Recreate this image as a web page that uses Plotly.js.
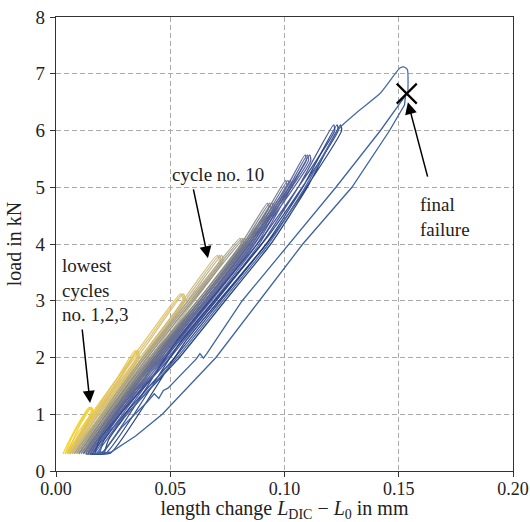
<!DOCTYPE html>
<html><head><meta charset="utf-8">
<script src="https://cdn.plot.ly/plotly-3.0.1.min.js"></script>
<style>html,body{margin:0;padding:0;background:#fff}#chart{width:530px;height:522px}</style>
</head><body><div id="chart"></div>
<script>
// load sequences (kN) shared by the cycles of one load level: loading, then unloading
const yL1 = [0.30, 0.55, 0.85, 1.12, 1.06, 0.70, 0.32];
const yL2 = [0.30, 0.70, 1.20, 1.65, 2.12, 2.02, 1.50, 0.90, 0.32];
const yL3 = [0.30, 0.80, 1.50, 2.30, 3.12, 3.02, 2.20, 1.30, 0.32];
const yL4 = [0.30, 0.90, 1.80, 2.80, 3.80, 3.70, 2.60, 1.50, 0.32];
const yL5 = [0.30, 1.00, 2.00, 3.10, 4.10, 4.00, 2.80, 1.60, 0.32];
const yL6 = [0.30, 1.00, 2.00, 3.00, 4.00, 4.72, 4.62, 3.20, 1.80, 0.32];
const yL7 = [0.30, 1.00, 2.00, 3.00, 4.00, 5.12, 5.02, 3.50, 2.00, 0.32];
const yL8 = [0.30, 1.00, 2.00, 3.00, 4.00, 5.00, 5.57, 5.47, 3.80, 2.10, 0.32];
const yL9 = [0.30, 0.55, 1.00, 2.00, 3.00, 4.00, 5.00, 6.10, 6.00, 4.20, 2.30, 0.32, 0.30];

// length change (mm) of each cycle
const x01 = [0.003, 0.006, 0.010, 0.0145, 0.0155, 0.011, 0.005];
const x02 = [0.004, 0.0065, 0.0105, 0.015, 0.016, 0.0115, 0.006];
const x03 = [0.005, 0.0075, 0.011, 0.0155, 0.0162, 0.012, 0.0068];
const x04 = [0.004, 0.010, 0.019, 0.027, 0.0345, 0.0355, 0.027, 0.015, 0.006];
const x05 = [0.005, 0.011, 0.020, 0.028, 0.0352, 0.036, 0.0278, 0.016, 0.007];
const x06 = [0.006, 0.012, 0.021, 0.0285, 0.0358, 0.0365, 0.0285, 0.017, 0.008];
const x07 = [0.005, 0.013, 0.0245, 0.039, 0.0545, 0.0555, 0.041, 0.026, 0.007];
const x08 = [0.006, 0.014, 0.0255, 0.040, 0.0552, 0.056, 0.042, 0.027, 0.008];
const x09 = [0.007, 0.015, 0.0265, 0.041, 0.0558, 0.0566, 0.043, 0.028, 0.009];
const x10 = [0.006, 0.017, 0.033, 0.052, 0.0705, 0.0715, 0.051, 0.031, 0.008];
const x11 = [0.007, 0.018, 0.034, 0.053, 0.0715, 0.0722, 0.052, 0.032, 0.009];
const x12 = [0.008, 0.019, 0.035, 0.054, 0.0725, 0.073, 0.053, 0.033, 0.010];
const x13 = [0.008, 0.020, 0.038, 0.060, 0.0805, 0.081, 0.058, 0.036, 0.010];
const x14 = [0.009, 0.021, 0.039, 0.061, 0.0815, 0.082, 0.059, 0.037, 0.011];
const x15 = [0.010, 0.022, 0.040, 0.062, 0.0825, 0.083, 0.060, 0.038, 0.012];
const x16 = [0.010, 0.022, 0.041, 0.062, 0.081, 0.0925, 0.093, 0.066, 0.038, 0.012];
const x17 = [0.011, 0.023, 0.042, 0.063, 0.082, 0.0935, 0.094, 0.067, 0.039, 0.013];
const x18 = [0.012, 0.024, 0.043, 0.064, 0.083, 0.0945, 0.095, 0.068, 0.040, 0.014];
const x19 = [0.012, 0.024, 0.044, 0.065, 0.084, 0.1005, 0.101, 0.073, 0.043, 0.014];
const x20 = [0.013, 0.025, 0.045, 0.066, 0.085, 0.1015, 0.102, 0.074, 0.044, 0.015];
const x21 = [0.014, 0.026, 0.046, 0.067, 0.086, 0.1025, 0.103, 0.075, 0.045, 0.016];
const x22 = [0.014, 0.026, 0.047, 0.068, 0.087, 0.101, 0.109, 0.1095, 0.081, 0.048, 0.016];
const x23 = [0.015, 0.027, 0.048, 0.069, 0.088, 0.102, 0.110, 0.1105, 0.082, 0.049, 0.017];
const x24 = [0.016, 0.028, 0.049, 0.070, 0.089, 0.103, 0.111, 0.1115, 0.083, 0.050, 0.018];
const x25 = [0.017, 0.019, 0.028, 0.050, 0.070, 0.090, 0.106, 0.1215, 0.122, 0.092, 0.053, 0.020, 0.013];
const x26 = [0.019, 0.021, 0.030, 0.052, 0.072, 0.092, 0.108, 0.123, 0.1235, 0.094, 0.055, 0.022, 0.015];
const x27 = [0.021, 0.023, 0.031, 0.054, 0.074, 0.094, 0.110, 0.1245, 0.125, 0.096, 0.057, 0.024, 0.017];

// cycle before failure (wiggly loading, then unloading)
const xPre = [0.016, 0.021, 0.029, 0.040, 0.043, 0.045, 0.047, 0.049, 0.0615, 0.063, 0.0645, 0.066, 0.0815, 0.102, 0.1225, 0.142, 0.153,
              0.1525, 0.146, 0.1295, 0.108, 0.089, 0.070, 0.0465, 0.035, 0.024, 0.017];
const yPre = [0.30, 0.34, 0.78, 1.22, 1.36, 1.28, 1.42, 1.46, 1.98, 2.07, 1.99, 2.07, 3.00, 4.00, 5.00, 6.00, 6.62,
              6.45, 6.00, 5.00, 4.00, 3.00, 2.00, 1.00, 0.62, 0.33, 0.30];
// final loading up to failure
const xFin = [0.019, 0.021, 0.031, 0.053, 0.073, 0.093, 0.109, 0.124, 0.132, 0.142, 0.1505, 0.1523, 0.1538, 0.154];
const yFin = [0.30, 0.60, 1.00, 2.00, 3.00, 4.00, 5.00, 6.04, 6.33, 6.66, 7.10, 7.12, 7.07, 6.66];
const failX = [0.1535];
const failY = [6.65];

const cycleX = [x01,x02,x03,x04,x05,x06,x07,x08,x09,x10,x11,x12,x13,x14,x15,x16,x17,x18,x19,x20,x21,x22,x23,x24,x25,x26,x27];
const cycleY = [yL1,yL1,yL1,yL2,yL2,yL2,yL3,yL3,yL3,yL4,yL4,yL4,yL5,yL5,yL5,yL6,yL6,yL6,yL7,yL7,yL7,yL8,yL8,yL8,yL9,yL9,yL9];
const cycleColors = ['#F5CF10','#F2CD1E','#EFCB2C','#ECC93A','#E8C746','#E4C552','#DFC25E','#DAC06A','#D4BD74',
                     '#CDB97E','#C2B282','#B6AA84','#AAA286','#9D9A86','#909186','#858888','#7B8089','#737A8A',
                     '#6C748C','#656E8F','#5E6892','#566296','#4D5B98','#425396','#334890','#243C82','#173274'];

const traces = [];
cycleX.forEach((xs, i) => {
  traces.push({x: xs, y: cycleY[i], mode: 'lines', type: 'scatter', opacity: 0.9,
    line: {color: cycleColors[i], width: 1.3, shape: 'spline', smoothing: 0.5}, hoverinfo: 'skip'});
});
traces.push({x: xPre, y: yPre, mode: 'lines', line: {color: '#3F63A2', width: 1.3}, hoverinfo: 'skip'});
traces.push({x: xFin, y: yFin, mode: 'lines', line: {color: '#4A6CA8', width: 1.3, shape: 'spline', smoothing: 0.5}, hoverinfo: 'skip'});
traces.push({x: failX, y: failY, mode: 'markers', marker: {symbol: 'x-thin', size: 20, line: {color: '#000', width: 2.2}}, hoverinfo: 'skip'});

const fnt = {family: 'Liberation Serif, DejaVu Serif, serif', size: 19, color: '#222'};
const xTickFnt = {family: 'Liberation Serif, DejaVu Serif, serif', size: 18, color: '#222'};
const titleFnt = {family: 'Liberation Serif, DejaVu Serif, serif', size: 20, color: '#222'};
const layout = {
  width: 530, height: 522,
  margin: {l: 56, r: 17, t: 17, b: 51},
  paper_bgcolor: '#fff', plot_bgcolor: '#fff',
  showlegend: false,
  font: fnt,
  xaxis: {range: [0, 0.2], dtick: 0.05, tick0: 0, tickformat: '.2f', ticks: 'outside', ticklen: 5, tickcolor: '#333',
    ticklabelstandoff: -4,
    showline: true, linecolor: '#333', linewidth: 1.2, mirror: true, zeroline: false,
    gridcolor: '#ababab', griddash: '5px,3px', gridwidth: 1, tickfont: xTickFnt,
    title: {text: 'length change <i>L</i><sub>DIC</sub> − <i>L</i><sub>0</sub> in mm', font: titleFnt, standoff: 6}},
  yaxis: {range: [0, 8], dtick: 1, tick0: 0, ticks: 'outside', ticklen: 5, tickcolor: '#333',
    ticklabelstandoff: 1,
    showline: true, linecolor: '#333', linewidth: 1.2, mirror: true, zeroline: false,
    gridcolor: '#ababab', griddash: '5px,3px', gridwidth: 1, tickfont: fnt,
    title: {text: 'load in kN', font: titleFnt, standoff: 8}},
  annotations: [
    {x: 0.0665, y: 3.75, ax: 0.060, ay: 4.99, axref: 'x', ayref: 'y', xref: 'x', yref: 'y', text: '',
     showarrow: true, arrowhead: 2, arrowsize: 1.6, arrowwidth: 1.5, arrowcolor: '#000'},
    {x: 0.071, y: 5.22, xref: 'x', yref: 'y', text: 'cycle no. 10', showarrow: false, font: fnt, yanchor: 'middle'},
    {x: 0.0149, y: 1.2, ax: 0.0114, ay: 2.52, axref: 'x', ayref: 'y', xref: 'x', yref: 'y', text: '',
     showarrow: true, arrowhead: 2, arrowsize: 1.6, arrowwidth: 1.5, arrowcolor: '#000'},
    {x: 0.0018, y: 3.84, xref: 'x', yref: 'y', text: 'lowest<br>cycles<br>no. 1,2,3', showarrow: false, font: fnt,
     xanchor: 'left', yanchor: 'top', align: 'left'},
    {x: 0.154, y: 6.5, ax: 0.1628, ay: 5.16, axref: 'x', ayref: 'y', xref: 'x', yref: 'y', text: '',
     showarrow: true, arrowhead: 2, arrowsize: 1.6, arrowwidth: 1.5, arrowcolor: '#000'},
    {x: 0.1585, y: 4.91, xref: 'x', yref: 'y', text: 'final<br>failure', showarrow: false, font: fnt,
     xanchor: 'left', yanchor: 'top', align: 'left'}
  ]
};
Plotly.newPlot('chart', traces, layout, {displayModeBar: false, staticPlot: true});
</script></body></html>
